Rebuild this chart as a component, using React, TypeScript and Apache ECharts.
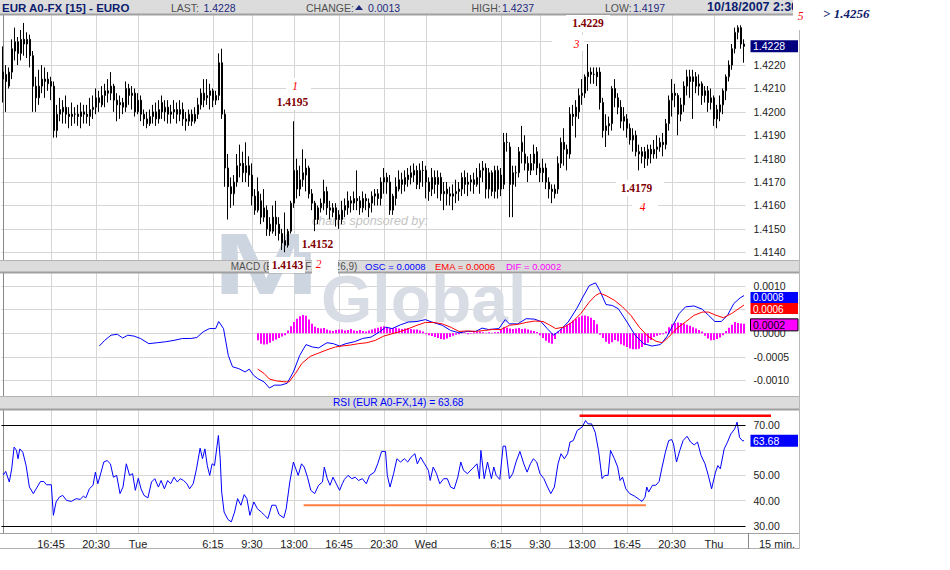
import React, { useEffect, useRef } from "react";
import * as echarts from "echarts";

// ---------- time axis ----------
const DAY_NAMES = ["Mon", "Tue", "Wed", "Thu"];
const FIRST_BAR_MINUTE = 12 * 60 + 45; // Monday 12:45
const BAR_MINUTES = 15;
const TICK_LABELS = ["16:45", "20:30", "Tue", "6:15", "9:30", "13:00", "16:45", "20:30", "Wed", "6:15", "9:30", "13:00", "16:45", "20:30", "Thu"];

// ---------- EUR A0-FX 15 min candles, in pips above 1.4000 ----------
const PIP_BASE = 1.4;
const OPEN_PIPS = [
  217, 216, 211, 217, 226, 230, 225, 231, 229, 231,
  224, 211, 206, 211, 214, 212, 213, 211, 192, 199,
  200, 202, 199, 198, 199, 199, 198, 200, 199, 198,
  201, 202, 206, 203, 207, 209, 208, 211, 205, 203,
  204, 202, 210, 207, 208, 200, 205, 199, 197, 195,
  198, 200, 197, 204, 200, 202, 199, 200, 201, 199,
  201, 197, 196, 199, 196, 199, 203, 208, 206, 207,
  209, 205, 207, 221, 199, 176, 168, 165, 170, 177,
  178, 174, 177, 173, 164, 158, 162, 155, 158, 152,
  149, 155, 152, 148, 145, 143, 149, 161, 175, 167,
  171, 173, 176, 165, 161, 154, 159, 161, 166, 159,
  157, 159, 156, 154, 158, 159, 162, 161, 163, 162,
  159, 163, 159, 161, 164, 165, 163, 170, 172, 170,
  158, 163, 167, 171, 169, 171, 172, 173, 175, 170,
  175, 175, 170, 167, 172, 169, 172, 165, 167, 165,
  164, 165, 166, 167, 172, 169, 170, 171, 169, 172,
  175, 176, 167, 174, 166, 175, 167, 169, 187, 185,
  169, 174, 174, 183, 182, 178, 175, 178, 183, 176,
  174, 176, 170, 167, 165, 167, 178, 187, 184, 182,
  199, 198, 200, 207, 208, 215, 217, 216, 217, 217,
  204, 192, 194, 195, 210, 206, 202, 196, 197, 193,
  188, 190, 183, 181, 183, 180, 184, 182, 184, 185,
  187, 186, 195, 205, 208, 207, 199, 203, 211, 215,
  213, 215, 211, 212, 207, 209, 204, 206, 197, 200,
  203, 209, 215, 220, 227, 234, 236, 229,
];
const CLOSE_PIPS = [
  214, 213, 217, 227, 230, 225, 231, 229, 231, 224,
  211, 206, 211, 214, 213, 214, 211, 192, 199, 201,
  202, 199, 198, 199, 199, 198, 200, 199, 198, 201,
  202, 206, 204, 207, 209, 208, 211, 205, 203, 204,
  202, 210, 207, 208, 200, 205, 199, 197, 195, 198,
  200, 197, 201, 200, 202, 199, 200, 201, 199, 201,
  197, 196, 199, 196, 199, 203, 208, 205, 207, 209,
  205, 207, 221, 199, 176, 168, 165, 170, 177, 178,
  174, 177, 173, 164, 158, 166, 155, 159, 150, 149,
  155, 152, 148, 144, 143, 149, 161, 175, 167, 171,
  174, 176, 165, 161, 154, 159, 161, 166, 159, 158,
  159, 154, 154, 158, 160, 162, 161, 163, 162, 159,
  163, 162, 161, 164, 165, 163, 170, 172, 170, 158,
  164, 168, 171, 169, 172, 173, 174, 175, 169, 175,
  175, 170, 166, 172, 169, 172, 165, 166, 165, 164,
  165, 166, 167, 172, 169, 170, 171, 169, 172, 175,
  176, 167, 174, 166, 175, 167, 173, 187, 187, 169,
  174, 174, 183, 187, 178, 175, 178, 182, 176, 174,
  176, 170, 167, 166, 167, 178, 187, 184, 182, 199,
  198, 202, 207, 208, 215, 217, 216, 216, 215, 204,
  192, 194, 195, 210, 206, 202, 196, 198, 193, 188,
  190, 183, 182, 183, 180, 184, 182, 184, 185, 187,
  186, 195, 205, 208, 207, 199, 203, 211, 215, 213,
  215, 211, 212, 207, 209, 204, 206, 197, 201, 203,
  209, 215, 220, 227, 234, 236, 229, 228,
];
const LOW_PIPS = [
  204, 200, 210, 214, 222, 220, 222, 224, 223, 219,
  200, 200, 203, 208, 206, 209, 205, 189, 189, 196,
  195, 195, 193, 194, 195, 194, 193, 195, 195, 194,
  197, 199, 200, 202, 202, 204, 205, 200, 196, 197,
  199, 200, 203, 201, 198, 199, 196, 194, 193, 194,
  195, 194, 195, 197, 196, 195, 195, 197, 195, 196,
  194, 192, 194, 194, 195, 197, 201, 202, 203, 201,
  202, 203, 205, 197, 168, 154, 159, 160, 168, 172,
  170, 170, 168, 160, 156, 157, 152, 153, 147, 147,
  148, 147, 145, 141, 140, 142, 148, 159, 163, 164,
  168, 166, 163, 158, 149, 152, 157, 158, 156, 154,
  155, 151, 150, 152, 155, 156, 157, 158, 158, 156,
  157, 158, 155, 157, 160, 160, 160, 165, 165, 156,
  156, 160, 166, 165, 166, 168, 169, 170, 167, 167,
  168, 163, 162, 164, 165, 163, 162, 158, 160, 160,
  158, 161, 162, 164, 165, 164, 166, 165, 168, 165,
  170, 163, 163, 164, 163, 163, 164, 167, 183, 155,
  155, 168, 172, 178, 175, 170, 173, 175, 173, 170,
  170, 167, 163, 161, 163, 165, 176, 177, 175, 180,
  194, 189, 197, 203, 206, 209, 212, 212, 211, 201,
  189, 185, 190, 192, 202, 199, 193, 192, 189, 186,
  183, 181, 175, 178, 176, 177, 178, 180, 180, 183,
  181, 184, 192, 198, 202, 190, 196, 200, 207, 206,
  197, 208, 207, 203, 204, 200, 201, 194, 193, 196,
  199, 205, 213, 218, 225, 231, 227, 221,
];
const HIGH_PIPS = [
  228, 220, 219, 231, 236, 232, 235, 238, 234, 233,
  226, 215, 218, 220, 219, 217, 215, 213, 203, 206,
  205, 207, 202, 204, 202, 203, 204, 203, 203, 206,
  207, 210, 209, 211, 212, 214, 217, 212, 208, 207,
  206, 213, 212, 211, 210, 208, 207, 201, 200, 201,
  203, 204, 205, 207, 205, 205, 203, 205, 204, 205,
  204, 200, 201, 201, 202, 206, 210, 214, 214, 212,
  210, 209, 225, 227, 201, 182, 172, 173, 182, 186,
  183, 187, 181, 178, 167, 172, 165, 167, 160, 155,
  160, 162, 155, 150, 157, 150, 162, 196, 180, 177,
  184, 180, 177, 167, 162, 160, 163, 171, 168, 162,
  161, 161, 158, 162, 163, 166, 164, 166, 175, 164,
  166, 165, 163, 166, 167, 167, 172, 176, 174, 173,
  165, 172, 175, 174, 175, 176, 177, 178, 177, 178,
  179, 177, 172, 176, 175, 175, 174, 170, 170, 168,
  169, 171, 170, 174, 175, 174, 173, 174, 176, 178,
  179, 178, 176, 175, 177, 177, 176, 191, 191, 187,
  177, 177, 185, 194, 190, 181, 182, 186, 185, 178,
  180, 178, 172, 169, 169, 181, 189, 193, 186, 202,
  203, 205, 210, 214, 216, 229, 219, 219, 219, 219,
  206, 199, 198, 211, 214, 208, 205, 202, 199, 195,
  193, 192, 186, 185, 185, 186, 186, 188, 190, 189,
  191, 197, 207, 214, 212, 208, 206, 213, 218, 218,
  218, 217, 216, 213, 211, 211, 210, 207, 203, 207,
  210, 216, 222, 229, 236, 237, 237, 231,
];

// ---------- MACD (values in units of 0.0001), [bar, value] ----------
const MACD_LINE_E4 = [
  [32.1, -2.7], [33.9, -1.5], [36.0, -0.4], [38.1, -0.2], [39.9, -1.0], [41.6, -0.4], [43.7, -0.6], [45.8, -1.1],
  [48.6, -2.2], [51.4, -2.0], [54.2, -1.8], [57.0, -1.5], [59.8, -1.1], [62.6, -1.1], [64.6, -0.9], [66.7, 0.3],
  [68.8, 1.0], [70.9, 1.0], [71.9, 2.5], [73.5, 1.0], [75.1, -4.7], [76.5, -7.1], [78.6, -7.5], [80.7, -8.2],
  [82.1, -7.6], [83.5, -8.9], [84.9, -9.6], [87.0, -10.3], [88.8, -11.6], [90.5, -11.0], [92.6, -11.0], [94.7, -10.6],
  [96.8, -8.2], [98.9, -4.7], [101.0, -2.4], [103.1, -2.9], [105.2, -3.1], [108.0, -2.0], [110.1, -2.2], [112.2, -2.7],
  [114.3, -2.2], [117.1, -1.8], [119.9, -1.1], [122.7, -0.8], [125.5, 0.3], [127.6, 1.3], [129.7, 1.0], [132.5, 1.8],
  [135.2, 2.4], [138.0, 2.5], [140.8, 2.9], [142.9, 2.4], [146.4, 1.7], [149.2, 0.6], [152.0, 0.1], [154.8, 0.4],
  [157.6, 0.4], [159.7, 1.1], [161.8, 0.8], [165.3, 1.0], [167.4, 2.9], [168.8, 2.0], [171.6, 2.0], [174.4, 3.1],
  [177.2, 3.0], [179.3, 2.5], [181.4, 1.0], [183.5, -0.4], [185.6, 0.6], [188.4, 2.4], [191.2, 5.2], [193.3, 7.7],
  [195.4, 10.1], [197.5, 10.7], [198.9, 9.1], [201.0, 6.1], [203.1, 5.9], [205.1, 5.2], [208.0, 2.4], [210.7, -0.4],
  [213.5, -2.2], [216.3, -2.7], [219.1, -2.4], [221.2, -0.8], [223.3, 1.7], [225.4, 4.2], [227.5, 5.6], [230.3, 5.8],
  [233.1, 5.1], [235.2, 3.8], [237.3, 2.5], [239.4, 2.5], [241.5, 3.8], [243.6, 6.3], [245.7, 7.5], [247, 8.0],
];
const MACD_EMA_E4 = [
  [84.9, -7.6], [87.0, -8.5], [88.8, -9.7], [91.2, -10.1], [94.0, -10.3], [95.4, -10.3], [97.5, -8.5], [99.6, -6.4],
  [102.4, -4.9], [105.2, -4.2], [108.0, -3.5], [110.8, -2.9], [112.9, -2.7], [115.7, -2.5], [118.5, -2.2], [121.3, -2.0],
  [124.1, -1.5], [126.9, -0.6], [129.7, -0.1], [132.5, 0.4], [135.2, 1.0], [138.0, 1.7], [140.8, 2.3], [143.6, 2.3],
  [146.4, 2.0], [149.2, 1.3], [152.0, 0.4], [154.8, 0.5], [157.6, 0.4], [160.4, 0.6], [163.2, 0.8], [166.0, 0.8],
  [168.8, 1.7], [171.6, 1.9], [174.4, 2.3], [177.2, 2.6], [180.0, 2.5], [182.1, 1.8], [184.2, 1.0], [187.0, 1.3],
  [189.8, 2.4], [192.6, 4.2], [195.4, 6.6], [197.5, 8.0], [198.9, 8.5], [201.0, 8.0], [203.8, 7.0], [206.5, 5.6],
  [209.3, 3.8], [212.1, 1.3], [214.9, -0.6], [217.7, -1.7], [219.8, -2.0], [221.9, -0.8], [224.7, 1.1], [227.5, 2.4],
  [230.3, 3.8], [233.1, 4.5], [235.2, 4.5], [237.3, 3.9], [240.1, 3.3], [242.9, 4.2], [247, 6.0],
];
const HIST_START_BAR = 85;
const MACD_HIST_E4 = [
  -1.5, -2.2, -2.4, -2.3, -2.0, -1.6, -1.3, -1.0, -0.7, -0.4,
  0.6, 1.5, 2.4, 3.1, 3.6, 3.9, 3.7, 2.9, 2.0, 1.4,
  1.1, 1.0, 1.1, 0.8, 0.6, 0.5, 0.7, 0.8, 0.8, 0.6,
  0.7, 0.9, 0.6, 0.5, 0.7, 0.5, 0.4, 0.6, 0.8, 1.0,
  1.2, 1.4, 1.5, 1.2, 1.0, 1.1, 1.2, 1.0, 0.9, 1.0,
  1.1, 0.9, 0.8, 0.8, 0.6, 0.4, -0.2, -0.4, -0.6, -0.8,
  -1.0, -1.2, -1.3, -1.1, -0.8, -0.5, -0.3, -0.2, 0.2, 0.1,
  -0.2, -0.1, 0.2, 0.3, 0.4, 0.2, 0.1, 0.2, 0.1, 0.2,
  0.3, 0.8, 1.3, 1.2, 1.0, 0.9, 1.0, 1.1, 0.9, 1.0,
  0.8, 0.6, 0.5, 0.3, -0.4, -1.0, -1.6, -2.0, -2.2, -1.2,
  0.4, 0.9, 1.4, 1.8, 2.2, 2.7, 3.1, 3.4, 3.7, 3.8,
  3.6, 3.3, 2.8, 1.9, -0.3, -1.0, -1.8, -2.2, -1.9, -1.4,
  -1.7, -2.3, -2.6, -2.9, -3.2, -3.4, -3.4, -3.3, -2.9, -2.5,
  -2.0, -1.4, -0.8, -0.5, -0.3, -0.2, 0.4, 1.3, 1.9, 2.2,
  2.3, 2.2, 2.0, 1.8, 1.6, 1.3, 1.0, 0.7, 0.4, -0.5,
  -1.1, -1.5, -1.4, -1.2, -0.9, -0.4, 0.5, 1.2, 1.8, 2.4,
  2.2, 2.1, 2.0,
];

// ---------- RSI(14), [bar, value] ----------
const RSI_POINTS = [
  [0, 50.7], [0.2, 50.3], [0.9, 51.6], [2.1, 47.4], [2.9, 52.6], [3.7, 61.2], [4.5, 59.9], [5.0, 56.6], [5.6, 60.5], [6.6, 59.2],
  [7.7, 53.9], [8.8, 45.4], [10.1, 42.8], [11.4, 45.4], [12.5, 47.6], [13.6, 47.6], [14.5, 46.3], [16.1, 46.3], [16.8, 34.2], [17.7, 39.5],
  [18.8, 41.4], [19.9, 42.1], [21.2, 40.1], [22.8, 39.7], [24.4, 40.8], [25.7, 40.5], [26.8, 41.8], [27.6, 41.1], [28.8, 44.7], [30.0, 46.1],
  [30.8, 51.3], [31.6, 46.7], [32.7, 51.3], [33.6, 55.3], [34.7, 55.9], [35.8, 54.6], [36.8, 49.3], [37.9, 50.0], [39.0, 42.8], [40.0, 45.4],
  [41.1, 54.6], [42.2, 50.0], [43.2, 50.7], [44.1, 44.1], [45.1, 48.9], [46.0, 44.7], [47.0, 42.1], [48.3, 41.1], [49.5, 47.4], [50.6, 48.7],
  [51.8, 45.4], [52.7, 48.0], [53.8, 44.7], [54.9, 48.0], [55.9, 46.7], [57.0, 49.3], [58.1, 47.4], [59.1, 48.7], [60.2, 48.0], [61.3, 46.7],
  [62.2, 44.7], [63.4, 46.7], [64.5, 52.6], [65.7, 60.8], [66.5, 56.6], [67.3, 60.5], [68.1, 53.9], [68.9, 50.0], [69.7, 54.6], [70.5, 53.9],
  [71.8, 65.8], [72.4, 56.6], [72.9, 43.4], [73.7, 35.5], [75.0, 32.5], [76.1, 31.6], [77.2, 35.5], [78.2, 40.8], [79.3, 38.2], [80.4, 42.4],
  [81.3, 40.8], [82.3, 34.2], [83.6, 39.5], [84.8, 36.8], [86.1, 35.5], [87.2, 34.2], [88.3, 32.9], [89.6, 38.2], [90.9, 38.2], [92.0, 34.5],
  [93.6, 33.2], [94.4, 36.8], [95.6, 47.4], [96.8, 55.3], [97.6, 52.6], [98.4, 50.0], [99.5, 54.6], [100.4, 53.3], [101.5, 49.3], [102.6, 44.1],
  [103.9, 42.8], [105.2, 46.1], [106.5, 47.4], [107.1, 53.3], [108.1, 48.7], [109.0, 46.1], [110.0, 49.3], [111.1, 46.7], [112.2, 44.1], [113.1, 46.7],
  [113.8, 48.4], [115.0, 50.0], [116.3, 48.7], [117.4, 49.3], [118.5, 48.0], [119.8, 48.7], [121.1, 46.7], [122.2, 50.0], [123.8, 51.3], [124.9, 54.6],
  [126.2, 59.5], [127.5, 59.5], [128.1, 50.0], [129.0, 45.4], [130.2, 50.7], [131.3, 56.6], [132.5, 55.3], [133.8, 56.6], [134.9, 55.3], [136.0, 57.2],
  [137.3, 58.6], [138.1, 54.6], [139.2, 57.2], [140.5, 54.6], [141.8, 52.0], [142.4, 48.0], [143.4, 53.3], [144.5, 50.7], [145.6, 46.7], [146.9, 48.7],
  [148.1, 48.7], [149.2, 45.4], [150.4, 44.7], [151.6, 49.3], [152.6, 55.3], [153.5, 52.0], [154.8, 50.7], [156.4, 52.6], [158.0, 54.6], [158.8, 48.7],
  [159.3, 59.9], [160.4, 48.7], [161.5, 55.3], [162.8, 48.7], [163.6, 53.3], [164.4, 50.0], [165.6, 48.4], [166.7, 61.6], [167.5, 61.6], [168.8, 48.7],
  [169.9, 50.7], [171.0, 55.3], [172.3, 59.5], [173.6, 54.6], [174.7, 51.3], [175.8, 54.6], [176.8, 56.6], [177.9, 55.3], [179.0, 50.7], [180.3, 48.7],
  [181.5, 45.4], [182.6, 42.8], [183.8, 45.4], [185.0, 54.6], [186.0, 58.6], [187.1, 56.6], [188.2, 58.6], [189.0, 63.2], [190.1, 63.8], [191.4, 67.8],
  [193.0, 69.1], [194.2, 71.7], [195.0, 70.4], [196.2, 70.4], [197.4, 67.1], [198.5, 59.9], [199.7, 48.7], [200.6, 50.0], [201.7, 50.0], [202.5, 59.9],
  [203.8, 56.6], [204.9, 53.3], [205.7, 48.0], [206.5, 49.3], [207.6, 44.7], [208.9, 42.8], [210.5, 41.8], [212.1, 40.5], [213.0, 39.7], [214.0, 41.4],
  [214.6, 45.4], [215.2, 43.4], [216.5, 46.1], [217.6, 46.1], [218.7, 47.6], [219.7, 53.3], [220.8, 59.2], [221.9, 63.8], [222.9, 64.2], [223.5, 62.5],
  [224.5, 55.3], [225.6, 59.9], [226.7, 63.8], [228.0, 65.5], [229.2, 63.2], [230.4, 62.1], [231.5, 63.2], [232.7, 57.9], [234.0, 54.6], [235.1, 50.0],
  [236.2, 44.7], [237.5, 51.3], [238.3, 53.9], [239.1, 52.6], [240.4, 60.5], [241.5, 63.2], [242.6, 66.4], [243.9, 68.4], [244.7, 71.1], [245.5, 65.1],
  [246.4, 63.8], [247, 63.68],
];

// ---------- axis ticks & last values ----------
const PRICE_GRID = [1.414, 1.415, 1.416, 1.417, 1.418, 1.419, 1.42, 1.421, 1.422, 1.423];
const PRICE_LABELS = [1.414, 1.415, 1.416, 1.417, 1.418, 1.419, 1.42, 1.421, 1.422];
const MACD_GRID = [-0.001, -0.0005, 0, 0.0005, 0.001];
const MACD_LABELS = [-0.001, -0.0005, 0, 0.001];
const RSI_GRID = [30, 40, 50, 60, 70];
const RSI_LABELS = [30, 40, 50, 70];
const RSI_BANDS = [70, 30];
const LAST_PRICE = 1.4228;
const CHANGE = 0.0013;
const DAY_HIGH = 1.4237;
const DAY_LOW = 1.4197;
const MACD_OSC = 0.0008;
const MACD_EMA = 0.0006;
const MACD_DIF = 0.0002;
const RSI_LAST = 63.68;
const RSI_RESISTANCE = { from: 192.2, to: 256, value: 73.6 };
const RSI_SUPPORT = { from: 100.2, to: 214.3, value: 38.2 };

// ---------- derived ----------
const CATEGORIES: string[] = OPEN_PIPS.map((_, i) => {
  const t = FIRST_BAR_MINUTE + i * BAR_MINUTES;
  const day = Math.floor(t / 1440);
  const m = t % 1440;
  return m === 0 ? DAY_NAMES[day] : `${Math.floor(m / 60)}:${String(m % 60).padStart(2, "0")}`;
});
const TICK_INDEX: number[] = [];
{
  let k = 0;
  CATEGORIES.forEach((c, i) => {
    if (k < TICK_LABELS.length && c === TICK_LABELS[k]) {
      TICK_INDEX.push(i);
      k++;
    }
  });
}
const TICK_SET = new Set(TICK_INDEX);
const toPrice = (p: number) => +(PIP_BASE + p / 10000).toFixed(4);

const SANS = '"Liberation Sans", Arial, sans-serif';
const SERIF = '"Liberation Serif", "Times New Roman", serif';
const N = CATEGORIES.length;
const GRIDS = [
  { left: 1.5, top: 15, width: 744, height: 245 },
  { left: 1.5, top: 272, width: 744, height: 124 },
  { left: 1.5, top: 409, width: 744, height: 124 },
];

function buildOption(): any {
  const catAxis = (gridIndex: number, showLabels: boolean) => ({
    type: "category",
    gridIndex,
    data: CATEGORIES,
    boundaryGap: true,
    position: "bottom",
    axisLine: { show: false, onZero: false },
    axisTick: { show: false },
    splitLine: { show: false },
    axisLabel: showLabels
      ? { show: true, interval: (idx: number) => TICK_SET.has(idx), color: "#222", fontSize: 11, fontFamily: SANS, margin: 5 }
      : { show: false },
  });
  const valXAxis = (gridIndex: number) => ({
    type: "value",
    gridIndex,
    min: -0.5,
    max: N - 0.5,
    position: "top",
    axisLine: { show: false, onZero: false },
    axisTick: { show: false, customValues: TICK_INDEX },
    axisLabel: { show: false },
    splitLine: { show: true, lineStyle: { color: "#d6d6d6", width: 1 } },
  });
  const yAx = (gridIndex: number, min: number, max: number, grid: number[], labels: number[], digits: number) => ({
    type: "value",
    gridIndex,
    position: "right",
    offset: 3,
    min,
    max,
    axisLine: { show: true, lineStyle: { color: "#888", width: 1 } },
    axisTick: { show: false, customValues: grid },
    axisLabel: {
      customValues: labels,
      formatter: (v: number) => (Math.abs(v) < 1e-12 ? 0 : v).toFixed(digits),
      color: "#222",
      fontSize: 10.5,
      fontFamily: SANS,
      margin: 5,
    },
    splitLine: { show: true, lineStyle: { color: "#d6d6d6", width: 1 } },
  });

  return {
    animation: false,
    backgroundColor: "#ffffff",
    textStyle: { fontFamily: SANS },
    grid: GRIDS.map((g) => ({ ...g, containLabel: false, outerBoundsMode: "none" })),
    xAxis: [catAxis(0, false), catAxis(1, false), catAxis(2, true), valXAxis(0), valXAxis(1), valXAxis(2)],
    yAxis: [
      yAx(0, 1.41367, 1.42414, PRICE_GRID, PRICE_LABELS, 4),
      yAx(1, -0.00133, 0.0013, MACD_GRID, MACD_LABELS, 4),
      yAx(2, 27.2, 76.3, RSI_GRID, RSI_LABELS, 2),
    ],
    series: [
      {
        type: "candlestick",
        xAxisIndex: 0,
        yAxisIndex: 0,
        barWidth: 2,
        data: OPEN_PIPS.map((o, i) => [toPrice(o), toPrice(CLOSE_PIPS[i]), toPrice(LOW_PIPS[i]), toPrice(HIGH_PIPS[i])]),
        itemStyle: { color: "#ffffff", color0: "#14147a", borderColor: "#000000", borderColor0: "#000000", borderWidth: 1 },
        z: 3,
      },
      {
        type: "bar",
        xAxisIndex: 1,
        yAxisIndex: 1,
        barWidth: 2,
        data: CATEGORIES.map((_, i) => {
          const k = i - HIST_START_BAR;
          return k >= 0 && k < MACD_HIST_E4.length ? MACD_HIST_E4[k] * 1e-4 : "-";
        }),
        itemStyle: { color: "#ff00ff" },
        z: 2,
      },
      {
        type: "line",
        xAxisIndex: 4,
        yAxisIndex: 1,
        symbol: "none",
        data: MACD_LINE_E4.map(([i, v]) => [i, v * 1e-4]),
        lineStyle: { color: "#0000ff", width: 1 },
        z: 4,
      },
      {
        type: "line",
        xAxisIndex: 4,
        yAxisIndex: 1,
        symbol: "none",
        data: MACD_EMA_E4.map(([i, v]) => [i, v * 1e-4]),
        lineStyle: { color: "#ff0000", width: 1 },
        z: 4,
      },
      {
        type: "line",
        xAxisIndex: 5,
        yAxisIndex: 2,
        symbol: "none",
        data: RSI_POINTS,
        lineStyle: { color: "#0000ff", width: 1 },
        z: 4,
        markLine: {
          silent: true,
          symbol: ["none", "none"],
          label: { show: false },
          lineStyle: { color: "#000000", width: 1.2, type: "solid" },
          data: RSI_BANDS.map((v) => ({ yAxis: v })),
        },
      },
    ],
  };
}

function buildGraphic(chart: any): any[] {
  const px = (xi: number, yi: number, x: number, y: number) => chart.convertToPixel({ xAxisIndex: xi, yAxisIndex: yi }, [x, y]);
  const T = (text: string, x: number, y: number, o: any = {}) => ({
    type: "text",
    x,
    y,
    z: o.z ?? 110,
    scaleX: o.scaleX ?? 1,
    style: {
      text,
      fill: o.fill ?? "#222",
      font: `${o.style ?? "normal"} ${o.weight ?? "normal"} ${o.size ?? 10.5}px ${o.family ?? SANS}`,
      textAlign: o.align ?? "left",
      textVerticalAlign: "middle",
    },
  });
  const R = (x: number, y: number, w: number, h: number, fill: string, o: any = {}) => ({
    type: "rect",
    z: o.z ?? 100,
    shape: { x, y, width: w, height: h },
    style: { fill, stroke: o.stroke ?? "none", lineWidth: o.lw ?? 0 },
  });
  const L = (x1: number, y1: number, x2: number, y2: number, stroke: string, w = 1, z = 105) => ({
    type: "line",
    z,
    shape: { x1, y1, x2, y2 },
    style: { stroke, lineWidth: w },
  });

  const NAVY = "#1c2a7c";
  const GRAY = "#505050";
  const DARKRED = "#7f0000";
  const ann = (t: string, x: number, y: number) => T(t, x, y, { family: SERIF, weight: "bold", size: 11.5, fill: DARKRED, align: "center", z: 112 });
  const num = (t: string, x: number, y: number) => T(t, x, y, { family: SERIF, style: "italic", size: 11.5, fill: "#ff0000", align: "center", z: 112 });

  const pPrice = px(3, 0, 0, LAST_PRICE)[1];
  const pOsc = px(4, 1, 0, MACD_OSC)[1];
  const pEma = px(4, 1, 0, MACD_EMA)[1];
  const pDif = px(4, 1, 0, MACD_DIF)[1];
  const pRsi = px(5, 2, 0, RSI_LAST)[1];
  const r1 = px(5, 2, RSI_RESISTANCE.from, RSI_RESISTANCE.value);
  const r2 = px(5, 2, RSI_RESISTANCE.to, RSI_RESISTANCE.value);
  const s1 = px(5, 2, RSI_SUPPORT.from, RSI_SUPPORT.value);
  const s2 = px(5, 2, RSI_SUPPORT.to, RSI_SUPPORT.value);

  return [
    // watermark
    T("M", 213, 263.5, { size: 88, weight: "bold", fill: "#cdd5e0", z: 1, scaleX: 1.45 }),
    T("Global", 321, 298.5, { size: 66, weight: "bold", fill: "#d8dde5", z: 1 }),
    T("charts sponsored by:", 312, 221, { size: 12.5, style: "italic", fill: "#c4c4c4", z: 1 }),

    // header band
    R(0, 0, 799, 14, "#dcdcdc"),
    L(0, 14.5, 799, 14.5, "#a0a0a0", 2),
    T("EUR A0-FX [15] - EURO", 2, 7.5, { weight: "bold", size: 11.5, fill: "#0c1c6e" }),
    T("LAST:", 171, 7.5, { fill: GRAY }),
    T(LAST_PRICE.toFixed(4), 203.5, 7.5, { fill: NAVY }),
    T("CHANGE:", 306, 7.5, { fill: GRAY }),
    { type: "polygon", z: 110, shape: { points: [[355, 10], [363, 10], [359, 5]] }, style: { fill: NAVY } },
    T(CHANGE.toFixed(4), 368, 7.5, { fill: NAVY }),
    T("HIGH:", 471.5, 7.5, { fill: GRAY }),
    T(DAY_HIGH.toFixed(4), 502, 7.5, { fill: NAVY }),
    T("LOW:", 605, 7.5, { fill: GRAY }),
    T(DAY_LOW.toFixed(4), 633, 7.5, { fill: NAVY }),
    T("10/18/2007 2:30", 707, 6.5, { weight: "bold", size: 12.5, fill: "#0c1c6e" }),

    // MACD band
    R(0, 260, 799, 12, "#dcdcdc"),
    L(0, 260.5, 799, 260.5, "#b4b4b4", 1),
    L(0, 272.5, 799, 272.5, "#a0a0a0", 2),
    T("MACD (EUR A0-FX,12,26,9)", 230.7, 266, { fill: GRAY, size: 10 }),
    T(`OSC = ${MACD_OSC.toFixed(4)}`, 365, 266, { fill: "#0000ff", size: 9.5 }),
    T(`EMA = ${MACD_EMA.toFixed(4)}`, 435, 266, { fill: "#ff0000", size: 9.5 }),
    T(`DIF = ${MACD_DIF.toFixed(4)}`, 506, 266, { fill: "#ff00ff", size: 9.5 }),

    // RSI band
    R(0, 396, 799, 13, "#dcdcdc"),
    L(0, 396.5, 799, 396.5, "#b4b4b4", 1),
    L(0, 409.5, 799, 409.5, "#a0a0a0", 2),
    T(`RSI (EUR A0-FX,14) = ${RSI_LAST.toFixed(2)}`, 333, 402.5, { fill: "#0000ff", size: 10.2 }),

    // bottom axis row & frame
    L(0, 533.5, 799, 533.5, "#a0a0a0", 1),
    L(0, 548.5, 799, 548.5, "#b0b0b0", 1),
    L(748.5, 533, 748.5, 549, "#888", 1),
    L(799.5, 0, 799.5, 549, "#b8b8b8", 1),
    T("15 min.", 759, 543.5, { size: 11 }),

    // last value boxes
    R(750.5, pPrice - 6, 47.5, 12, "#00007f", { z: 106 }),
    T(LAST_PRICE.toFixed(4), 753, pPrice, { fill: "#ffffff", z: 107 }),
    R(750.5, pEma - 2, 47.5, 11, "#ff0000", { z: 106 }),
    T(MACD_EMA.toFixed(4), 753, pEma + 4, { fill: "#ffffff", z: 107, size: 10 }),
    R(750.5, pOsc - 3.5, 47.5, 11, "#0000ff", { z: 108 }),
    T(MACD_OSC.toFixed(4), 753, pOsc + 2, { fill: "#ffffff", z: 109, size: 10 }),
    R(750.5, pDif - 5, 47.5, 12, "#ff00ff", { z: 106, stroke: "#000", lw: 1 }),
    T(MACD_DIF.toFixed(4), 753, pDif + 1, { fill: "#000000", z: 107 }),
    R(750.5, pRsi - 6, 47.5, 12, "#0000ff", { z: 106 }),
    T(RSI_LAST.toFixed(2), 753, pRsi, { fill: "#ffffff", z: 107 }),

    // RSI trend lines
    L(r1[0], r1[1], r2[0], r2[1], "#ff0000", 2.5, 104),
    L(s1[0], s1[1], s2[0], s2[1], "#ff7f3f", 2, 104),

    // annotations
    R(286, 78, 25, 18, "#ffffff", { z: 111 }),
    num("1", 295, 85.5),
    R(273, 94, 39, 16, "#ffffff", { z: 111 }),
    ann("1.4195", 292.5, 102),
    R(299, 232, 39, 20, "#ffffff", { z: 111 }),
    ann("1.4152", 317.5, 243.5),
    R(269, 257, 36, 16, "#ffffff", { z: 111 }),
    ann("1.4143", 287.5, 265),
    R(312, 256, 26, 18, "#ffffff", { z: 111 }),
    num("2", 318.5, 264),
    R(566, 15, 44, 17, "#ffffff", { z: 111 }),
    ann("1.4229", 588, 23),
    R(552, 35, 32, 16, "#ffffff", { z: 111 }),
    num("3", 576.5, 44),
    R(616, 180, 48, 16, "#ffffff", { z: 111 }),
    ann("1.4179", 636.5, 187.5),
    R(632, 199, 26, 15, "#ffffff", { z: 111 }),
    num("4", 642.5, 206.5),
    R(793, 0, 20, 30, "#ffffff", { z: 111 }),
    num("5", 800.5, 16),
    T("> 1.4256", 823, 13.3, { family: SERIF, style: "italic", weight: "bold", size: 13, fill: "#0d1b6b", z: 112 }),
  ];
}

export default function App() {
  const ref = useRef<HTMLDivElement>(null);
  useEffect(() => {
    const el = ref.current;
    if (!el) return;
    const chart = echarts.init(el, null, { renderer: "svg" });
    chart.setOption(buildOption());
    chart.setOption({ graphic: buildGraphic(chart) });
    return () => chart.dispose();
  }, []);
  return (
    <div
      ref={ref}
      style={{ position: "absolute", left: 0, top: 0, width: 950, height: 570, background: "#ffffff" }}
    />
  );
}
